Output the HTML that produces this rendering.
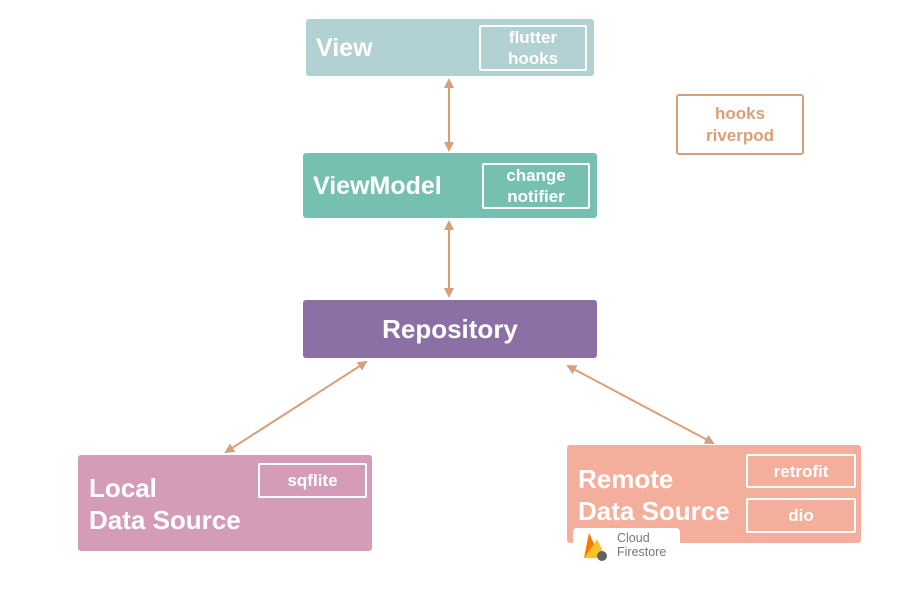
<!DOCTYPE html>
<html><head><meta charset="utf-8"><style>
body{margin:0;width:900px;height:600px;background:#fff;position:relative;overflow:hidden;font-family:"Liberation Sans",sans-serif;font-weight:bold;color:#fff}
.b{position:absolute;border-radius:3px}
.i{position:absolute;border:2.5px solid #fff;border-radius:2px;box-sizing:border-box;display:flex;align-items:center;justify-content:center;text-align:center;font-size:17px;line-height:21px}
.t{position:absolute;font-size:26px;line-height:32px}
</style></head><body>
<div class="b" style="left:306px;top:19px;width:288px;height:57px;background:#b1d1d3"></div>
<div class="t" style="left:316px;top:32px;font-size:25px">View</div>
<div class="i" style="left:479px;top:25px;width:108px;height:46px">flutter<br>hooks</div>

<div class="b" style="left:303px;top:153px;width:294px;height:65px;background:#76c0b1"></div>
<div class="t" style="left:313px;top:170px;font-size:25px">ViewModel</div>
<div class="i" style="left:482px;top:163px;width:108px;height:46px">change<br>notifier</div>

<div class="b" style="left:303px;top:300px;width:294px;height:58px;background:#8a70a4"></div>
<div class="t" style="left:303px;width:294px;text-align:center;top:313px">Repository</div>

<div class="b" style="left:78px;top:455px;width:294px;height:96px;background:#d49cb9"></div>
<div class="t" style="left:89px;top:472px">Local<br>Data Source</div>
<div class="i" style="left:258px;top:463px;width:109px;height:35px">sqflite</div>

<div class="b" style="left:567px;top:445px;width:294px;height:98px;background:#f4ae9c"></div>
<div class="t" style="left:578px;top:463px">Remote<br>Data Source</div>
<div class="i" style="left:746px;top:454px;width:110px;height:34px">retrofit</div>
<div class="i" style="left:746px;top:498px;width:110px;height:35px">dio</div>

<div style="position:absolute;left:573px;top:528px;width:107px;height:34px;background:#fff;border-radius:4px 4px 0 0"></div>
<svg style="position:absolute;left:580px;top:530px" width="30" height="32" viewBox="0 0 30 32">
<path d="M4 28 L9 3 L14 14 L17 9 L26 28 Z" fill="#fbc02d"/><path d="M4 28 L9 3 L14 14 Z" fill="#f57c00"/>
<circle cx="22" cy="26" r="5" fill="#616161"/></svg>
<div style="position:absolute;left:617px;top:531px;color:#777;font-weight:normal;font-size:12.5px;line-height:14px">Cloud<br>Firestore</div>

<div style="position:absolute;left:676px;top:94px;width:128px;height:61px;box-sizing:border-box;border:2.5px solid #d8a078;border-radius:3px;color:#d8a078;font-size:17px;line-height:22px;display:flex;align-items:center;justify-content:center;text-align:center">hooks<br>riverpod</div>

<svg style="position:absolute;left:0;top:0" width="900" height="600">
<defs><marker id="a" markerWidth="10" markerHeight="10" refX="8" refY="5" orient="auto-start-reverse" markerUnits="userSpaceOnUse"><path d="M0 0 L10 5 L0 10 Z" fill="#d8a07a"/></marker></defs>
<g stroke="#d8a07a" stroke-width="2" marker-start="url(#a)" marker-end="url(#a)">
<line x1="449" y1="80" x2="449" y2="150"/>
<line x1="449" y1="222" x2="449" y2="296"/>
<line x1="366" y1="362" x2="226" y2="452"/>
<line x1="568" y1="366" x2="713" y2="443"/>
</g></svg>
</body></html>
